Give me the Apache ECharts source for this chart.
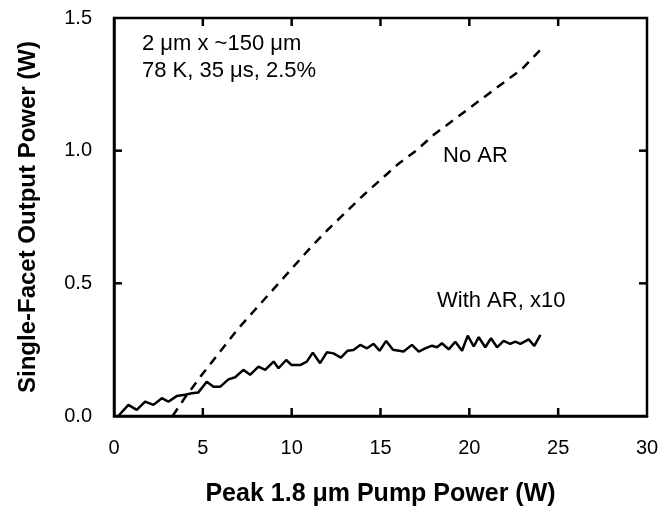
<!DOCTYPE html>
<html>
<head>
<meta charset="utf-8">
<script src="https://cdn.jsdelivr.net/npm/echarts@6/dist/echarts.min.js"></script>
<style>html,body{margin:0;padding:0;background:#fff;}#c{width:664px;height:512px;}</style>
</head>
<body>
<div id="c"></div>
<script>
// Peak pump power (W) for the "No AR" curve (dashed)
const noArX = [3.3, 4, 5, 6, 7, 8, 9, 10, 11, 12, 13, 14, 15, 16, 17, 18, 19, 20, 21, 22, 23, 24];
const noArY = [0, 0.07, 0.16, 0.245, 0.33, 0.405, 0.48, 0.555, 0.63, 0.70, 0.765, 0.83, 0.89, 0.95, 1.0, 1.06, 1.11, 1.16, 1.21, 1.26, 1.31, 1.38];
// "With AR, x10" curve (solid, jagged)
const withArX = [0.24, 0.81, 1.28, 1.75, 2.22, 2.69, 3.06, 3.53, 4.0, 4.38, 4.75, 5.22, 5.6, 5.97, 6.44, 6.82, 7.28, 7.66, 8.13, 8.51, 8.98, 9.26, 9.69, 10.0, 10.48, 10.85, 11.19, 11.6, 11.98, 12.35, 12.77, 13.15, 13.48, 13.86, 14.24, 14.61, 14.95, 15.32, 15.7, 16.3, 16.77, 17.15, 17.52, 17.9, 18.18, 18.46, 18.84, 19.21, 19.59, 19.91, 20.25, 20.53, 20.9, 21.22, 21.56, 21.93, 22.3, 22.59, 22.87, 23.34, 23.66, 24.0];
const withArY = [0.0, 0.042, 0.023, 0.054, 0.042, 0.067, 0.054, 0.075, 0.08, 0.086, 0.089, 0.129, 0.11, 0.11, 0.138, 0.146, 0.174, 0.155, 0.186, 0.174, 0.205, 0.18, 0.211, 0.192, 0.192, 0.205, 0.239, 0.199, 0.24, 0.236, 0.22, 0.246, 0.249, 0.268, 0.255, 0.272, 0.246, 0.283, 0.25, 0.243, 0.268, 0.243, 0.255, 0.265, 0.259, 0.274, 0.251, 0.28, 0.246, 0.303, 0.262, 0.297, 0.259, 0.293, 0.259, 0.283, 0.272, 0.28, 0.272, 0.289, 0.264, 0.306];
const xTicks = [0, 5, 10, 15, 20, 25, 30];
const yTicks = [0.0, 0.5, 1.0, 1.5];
const xTitle = 'Peak 1.8 \u03bcm Pump Power (W)';
const yTitle = 'Single-Facet Output Power (W)';
const note1 = '2 \u03bcm x ~150 \u03bcm';
const note2 = '78 K, 35 \u03bcs, 2.5%';
const labelNoAr = 'No AR';
const labelWithAr = 'With AR, x10';

const FONT = '"Liberation Sans", Arial, Helvetica, sans-serif';
const xMin = xTicks[0], xMax = xTicks[xTicks.length - 1];
const yMin = yTicks[0], yMax = yTicks[yTicks.length - 1];
const TL = 8;
const chart = echarts.init(document.getElementById('c'));
const tickStyle = { stroke: '#000', lineWidth: 2.5 };

// inner tick marks drawn through the axes' own scales
function renderXTick(params, api) {
  const v = api.value(0);
  const b = api.coord([v, yMin]);
  const t = api.coord([v, yMax]);
  return { type: 'group', children: [
    { type: 'line', shape: { x1: b[0], y1: b[1], x2: b[0], y2: b[1] - TL }, style: tickStyle },
    { type: 'line', shape: { x1: t[0], y1: t[1], x2: t[0], y2: t[1] + TL }, style: tickStyle }
  ] };
}
function renderYTick(params, api) {
  const v = api.value(1);
  const l = api.coord([xMin, v]);
  const r = api.coord([xMax, v]);
  return { type: 'group', children: [
    { type: 'line', shape: { x1: l[0], y1: l[1], x2: l[0] + TL, y2: l[1] }, style: tickStyle },
    { type: 'line', shape: { x1: r[0], y1: r[1], x2: r[0] - TL, y2: r[1] }, style: tickStyle }
  ] };
}

chart.setOption({
  animation: false,
  backgroundColor: '#fff',
  grid: { left: 114, right: 17, top: 18, bottom: 96, containLabel: false, show: true, borderColor: '#000', borderWidth: 2.5, backgroundColor: 'transparent' },
  xAxis: {
    type: 'value', min: xMin, max: xMax, interval: 5,
    axisLine: { show: true, onZero: false, lineStyle: { color: '#000', width: 2.5 } },
    axisTick: { show: false }, splitLine: { show: false },
    axisLabel: { color: '#000', fontSize: 20, fontFamily: FONT, margin: 22 },
    name: xTitle, nameLocation: 'middle', nameGap: 66,
    nameTextStyle: { color: '#000', fontSize: 25, fontWeight: 'bold', fontFamily: FONT }
  },
  yAxis: {
    type: 'value', min: yMin, max: yMax, interval: 0.5,
    axisLine: { show: true, onZero: false, lineStyle: { color: '#000', width: 2.5 } },
    axisTick: { show: false }, splitLine: { show: false },
    axisLabel: { color: '#000', fontSize: 20, fontFamily: FONT, margin: 22, formatter: v => v.toFixed(1) },
    name: yTitle, nameLocation: 'middle', nameGap: 74,
    nameTextStyle: { color: '#000', fontSize: 24, fontWeight: 'bold', fontFamily: FONT }
  },
  series: [
    {
      type: 'line', symbol: 'none',
      data: noArX.map((x, i) => [x, noArY[i]]),
      lineStyle: { color: '#000', width: 2.5, type: [9, 7] }
    },
    {
      type: 'line', symbol: 'none',
      data: withArX.map((x, i) => [x, withArY[i]]),
      lineStyle: { color: '#000', width: 2.5 }
    },
    {
      type: 'custom', silent: true, clip: false, renderItem: renderXTick,
      data: xTicks.slice(1, -1).map(v => [v, yMin])
    },
    {
      type: 'custom', silent: true, clip: false, renderItem: renderYTick,
      data: yTicks.slice(1, -1).map(v => [xMin, v])
    }
  ],
  graphic: [
    { type: 'text', left: 142, top: 33, style: { text: note1, fill: '#000', font: '22px ' + FONT } },
    { type: 'text', left: 142, top: 60, style: { text: note2, fill: '#000', font: '22px ' + FONT } },
    { type: 'text', left: 443, top: 145, style: { text: labelNoAr, fill: '#000', font: '22px ' + FONT } },
    { type: 'text', left: 437, top: 290, style: { text: labelWithAr, fill: '#000', font: '22px ' + FONT } }
  ]
});
</script>
</body>
</html>
